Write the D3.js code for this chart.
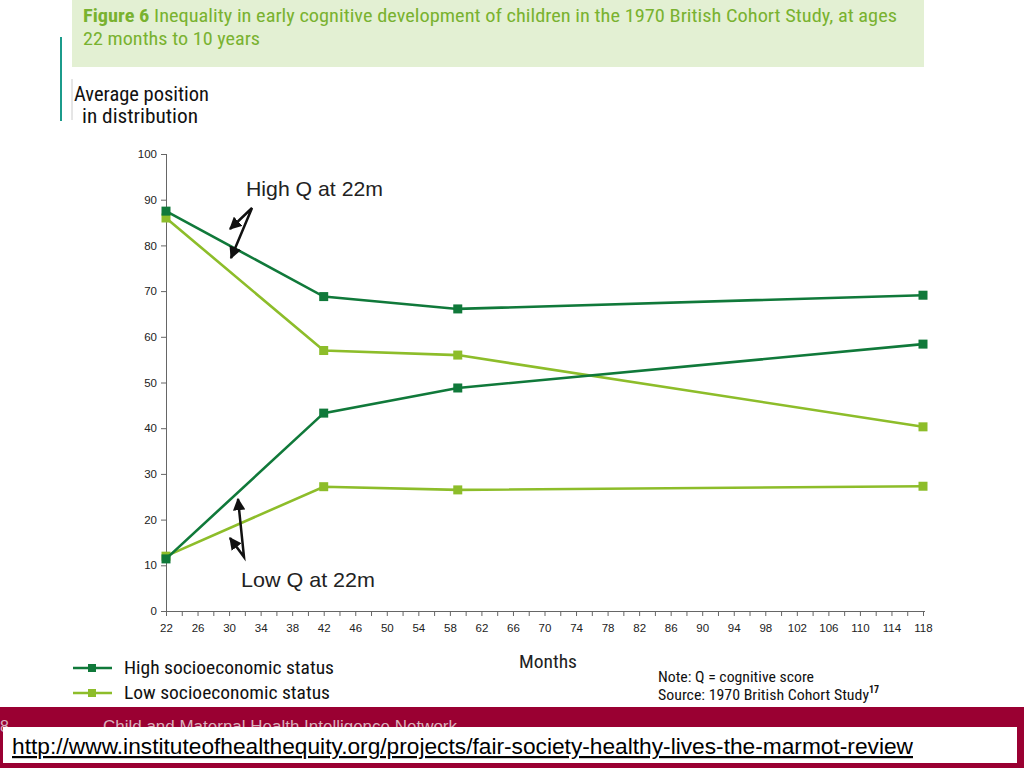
<!DOCTYPE html>
<html><head><meta charset="utf-8">
<script src="https://cdn.jsdelivr.net/npm/d3@7"></script>
<style>
body{margin:0;background:#fff;}
svg{display:block;}
text{font-family:"Liberation Sans",Arial,Helvetica,sans-serif;}
.narrow{font-family:"Liberation Sans Narrow","Roboto Condensed","Liberation Sans",Arial,sans-serif;}
</style></head><body>
<script>
// ---- data ----
const months = [22, 42, 59, 118];
const highSES_highQ = [87.5, 68.8, 66.1, 69.1];
const lowSES_highQ  = [86.0, 57.0, 56.0, 40.3];
const highSES_lowQ  = [11.4, 43.3, 48.8, 58.4];
const lowSES_lowQ   = [12.0, 27.2, 26.5, 27.3];
const xTicks = d3.range(22, 119, 2);
const xTickLabels = d3.range(22, 119, 4);
const yTicks = [0,10,20,30,40,50,60,70,80,90,100];
const seriesNames = ["High socioeconomic status", "Low socioeconomic status"];

const DARK = "#10793a", LIGHT = "#8dbd2a";

const svg = d3.select("body").append("svg").attr("width",1024).attr("height",768);

function txt(x0, y0, s, size, len, cls, fill){
  const t = svg.append("text").attr("x",x0).attr("y",y0).attr("font-size",size).attr("fill",fill||"#111").text(s);
  if (cls) t.attr("class",cls);
  if (len) t.attr("textLength",len).attr("lengthAdjust","spacingAndGlyphs");
  return t;
}

// header box
svg.append("rect").attr("x",72).attr("y",0).attr("width",852).attr("height",67).attr("fill","#e3f0d3");
const tt = svg.append("text").attr("class","narrow").attr("x",83).attr("y",22).attr("font-size",19).attr("fill","#79b22f")
  .attr("textLength",814).attr("lengthAdjust","spacingAndGlyphs");
tt.append("tspan").attr("font-weight","bold").text("Figure 6");
tt.append("tspan").text(" Inequality in early cognitive development of children in the 1970 British Cohort Study, at ages");
txt(83,45,"22 months to 10 years",19,177,"narrow","#79b22f");

// side decorations
svg.append("line").attr("x1",61).attr("x2",61).attr("y1",37).attr("y2",121).attr("stroke","#1b9b8b").attr("stroke-width",2);
svg.append("line").attr("x1",72).attr("x2",72).attr("y1",79).attr("y2",120).attr("stroke","#ccc").attr("stroke-width",1);

txt(74,101,"Average position",20,135,"narrow");
txt(82,123,"in distribution",20,116,"narrow");

// scales
const x = d3.scaleLinear().domain([22,118]).range([166,923]);
const y = d3.scaleLinear().domain([0,100]).range([611,154]);

// axes
const gx = svg.append("g").attr("transform","translate(0,611)")
  .call(d3.axisBottom(x).tickValues(xTicks).tickSize(5).tickPadding(8)
    .tickFormat(d => xTickLabels.includes(d) ? d : ""));
gx.select(".domain").attr("d","M166,0.5H925").attr("stroke","#666");
gx.selectAll(".tick line").attr("stroke","#666");
gx.selectAll("text").attr("font-size",11.5).attr("fill","#222").attr("font-family","Liberation Sans, Arial, sans-serif");

const gy = svg.append("g").attr("transform","translate(166,0)")
  .call(d3.axisLeft(y).tickValues(yTicks).tickSize(5).tickPadding(4));
gy.select(".domain").attr("d","M0.5,154V611").attr("stroke","#666");
gy.selectAll(".tick line").attr("stroke","#666");
gy.selectAll("text").attr("font-size",11.5).attr("fill","#222").attr("font-family","Liberation Sans, Arial, sans-serif");

// lines
const line = d3.line().x((d,i)=>x(months[i])).y(d=>y(d));
const series = [
  {v:highSES_highQ, c:DARK},
  {v:lowSES_highQ, c:LIGHT},
  {v:highSES_lowQ, c:DARK},
  {v:lowSES_lowQ, c:LIGHT}
];
[series[1],series[3],series[0],series[2]].forEach(s=>{
  svg.append("path").attr("d",line(s.v)).attr("fill","none").attr("stroke",s.c).attr("stroke-width",2.6);
  svg.selectAll(null).data(s.v).enter().append("rect")
    .attr("x",(d,i)=>x(months[i])-4.5).attr("y",d=>y(d)-4.5)
    .attr("width",9).attr("height",9).attr("fill",s.c);
});

// annotations
txt(246,196,"High Q at 22m",21,137,null,"#222");
txt(241,587,"Low Q at 22m",21,134,null,"#222");

const defs = svg.append("defs");
defs.append("marker").attr("id","ah").attr("viewBox","0 0 10 10").attr("refX",9).attr("refY",5)
  .attr("markerWidth",5).attr("markerHeight",5).attr("orient","auto-start-reverse")
  .append("path").attr("d","M0,0L10,5L0,10z").attr("fill","#111");
svg.append("path").attr("d","M230,229L252,208L231,258").attr("fill","none").attr("stroke","#111").attr("stroke-width",2.5)
  .attr("marker-start","url(#ah)").attr("marker-end","url(#ah)");
svg.append("path").attr("d","M238,499L244,557L230,538").attr("fill","none").attr("stroke","#111").attr("stroke-width",2.5)
  .attr("marker-start","url(#ah)").attr("marker-end","url(#ah)");

// x title
txt(519,668,"Months",18,58,"narrow","#222");

// legend
[[DARK,668],[LIGHT,693]].forEach((l,i)=>{
  svg.append("line").attr("x1",73).attr("x2",112).attr("y1",l[1]).attr("y2",l[1]).attr("stroke",l[0]).attr("stroke-width",2.6);
  svg.append("rect").attr("x",88).attr("y",l[1]-4).attr("width",8).attr("height",8).attr("fill",l[0]);
  txt(124,l[1]+6,seriesNames[i],19,i===0?210:206,"narrow");
});

// note / source
txt(658,682,"Note: Q = cognitive score",14,156,"narrow");
const src = svg.append("text").attr("class","narrow").attr("x",658).attr("y",700).attr("font-size",14).attr("fill","#111");
src.append("tspan").attr("textLength",211).attr("lengthAdjust","spacingAndGlyphs").text("Source: 1970 British Cohort Study");
src.append("tspan").attr("dy",-7).attr("font-size",10).attr("font-weight","bold").text("17");

// footer
svg.append("rect").attr("x",0).attr("y",707).attr("width",1024).attr("height",61).attr("fill","#9a0032");
svg.append("text").attr("x",0).attr("y",732).attr("font-size",16).attr("fill","#d9b3be").text("8");
txt(103,732,"Child and Maternal Health Intelligence Network",16,354,null,"#d9b3be");
svg.append("rect").attr("x",3).attr("y",727).attr("width",1014).attr("height",36).attr("fill","#fff");
txt(12,754,"http://www.instituteofhealthequity.org/projects/fair-society-healthy-lives-the-marmot-review",22,901,null,"#000")
  .attr("text-decoration","underline");
</script>
</body></html>
